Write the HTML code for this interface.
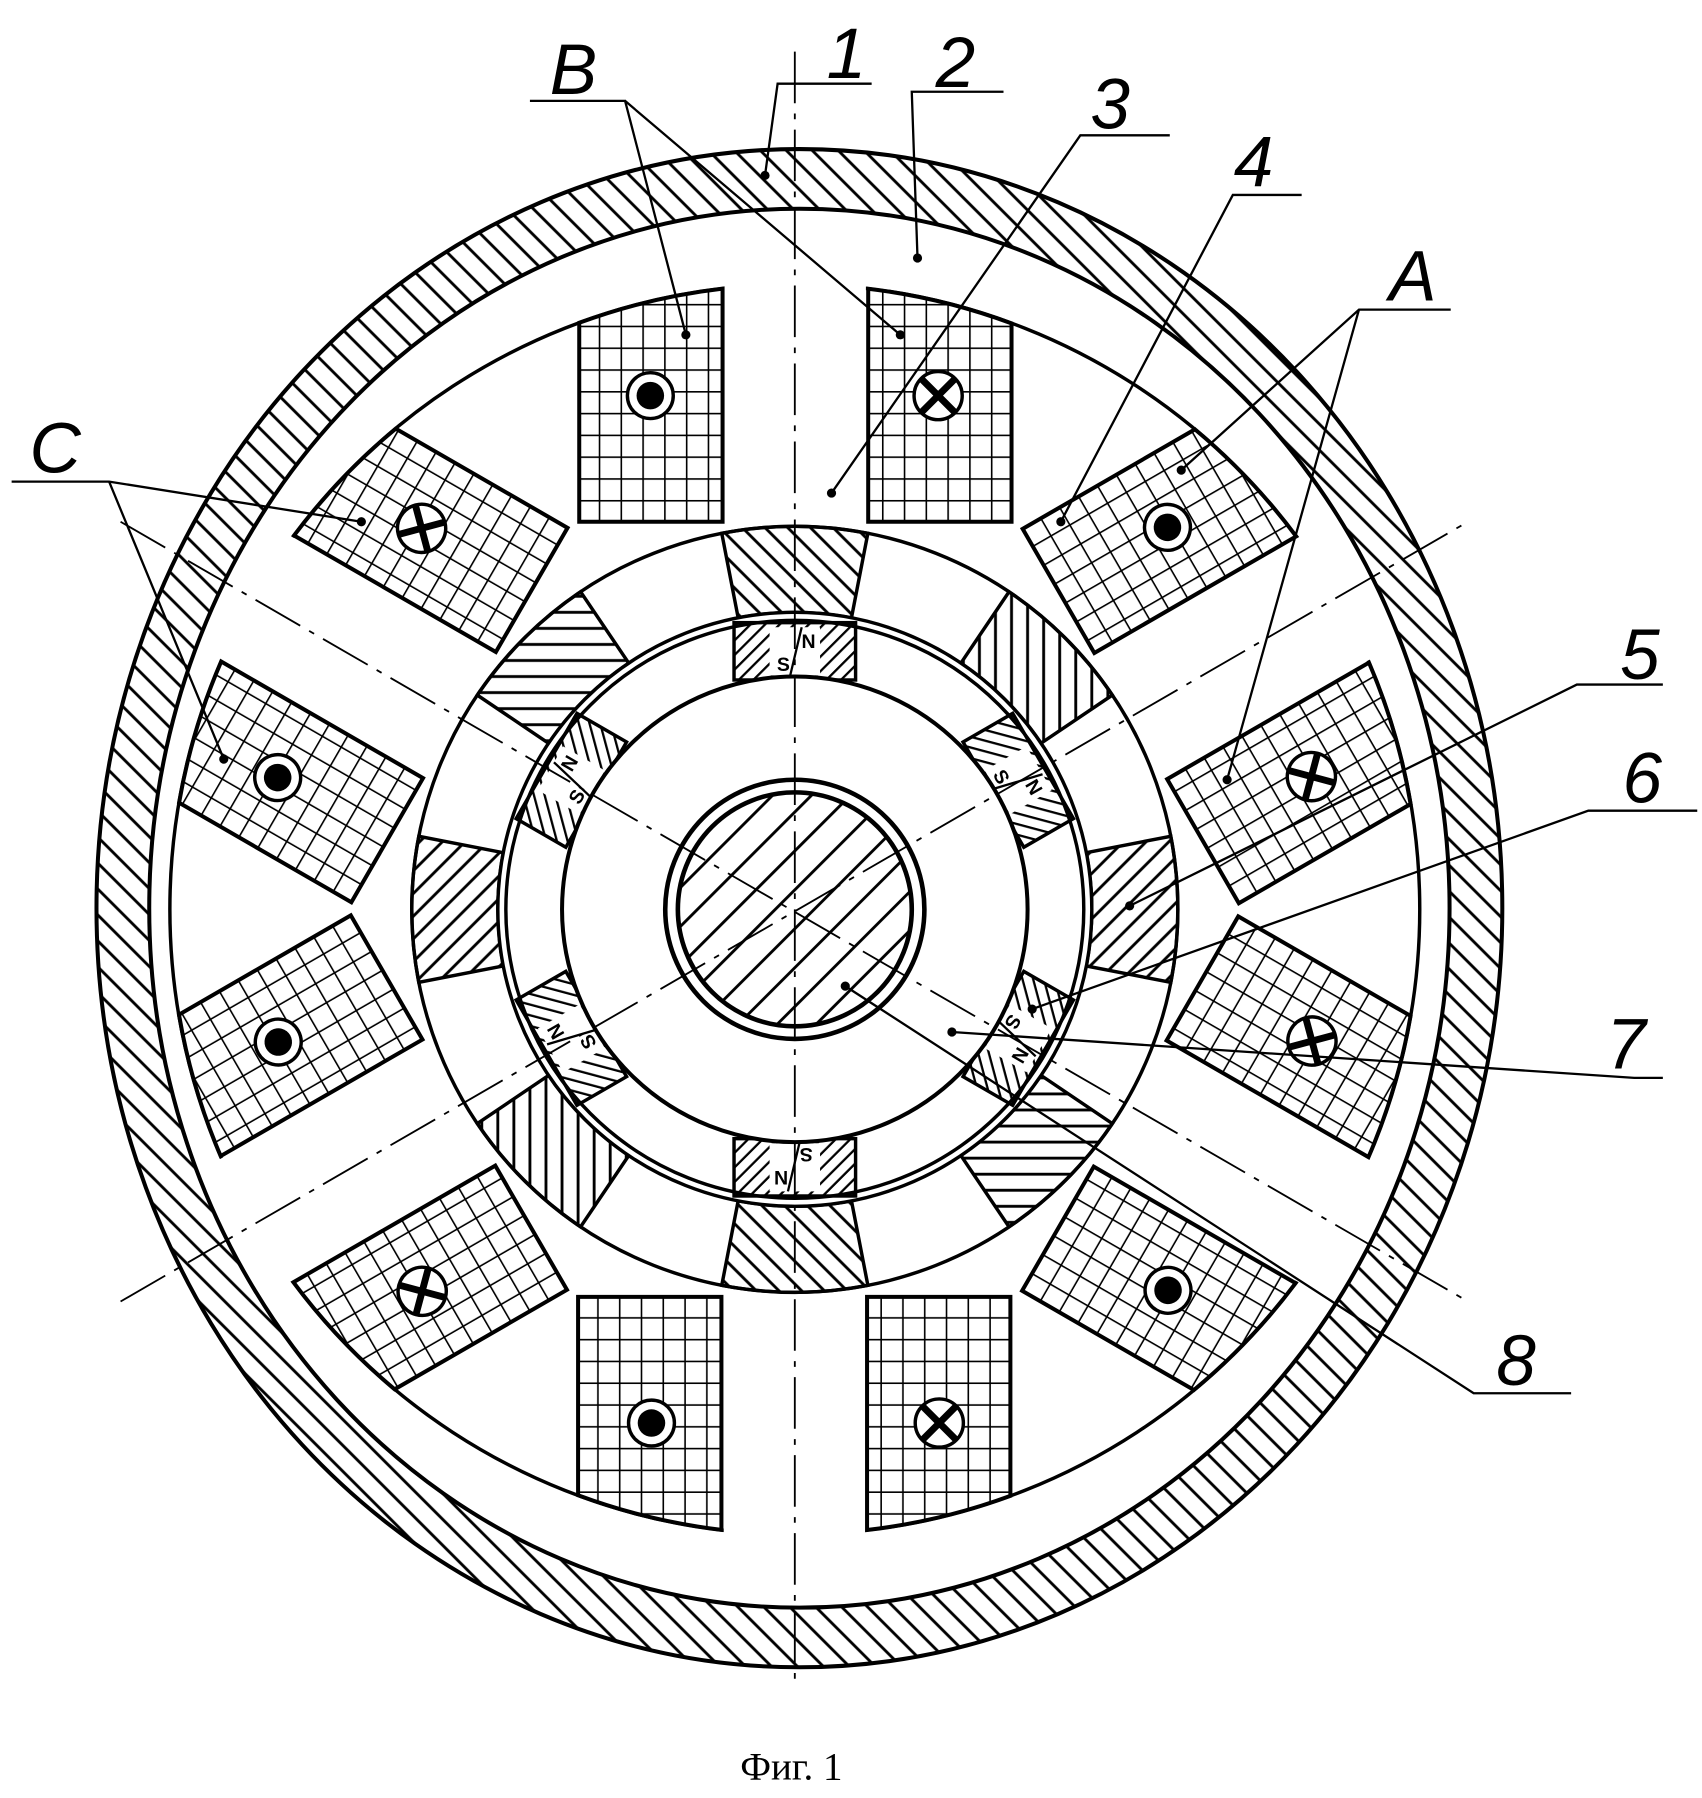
<!DOCTYPE html>
<html><head><meta charset="utf-8"><style>
html,body{margin:0;padding:0;background:#fff;}
svg{display:block;}
</style></head><body>
<svg width="1702" height="1798" viewBox="0 0 1484 1568" xmlns="http://www.w3.org/2000/svg">
<defs>
<pattern id="hh" width="16" height="16" patternUnits="userSpaceOnUse" patternTransform="rotate(-45)">
<line x1="8" y1="0" x2="8" y2="16" stroke="#000" stroke-width="2.5"/></pattern>
<pattern id="hs" width="14" height="14" patternUnits="userSpaceOnUse" patternTransform="rotate(-45)">
<line x1="7" y1="0" x2="7" y2="14" stroke="#000" stroke-width="2.5"/></pattern>
<pattern id="hm" width="9" height="9" patternUnits="userSpaceOnUse" patternTransform="rotate(45)">
<line x1="4" y1="0" x2="4" y2="9" stroke="#000" stroke-width="2"/></pattern>
<pattern id="hsh" width="24" height="24" patternUnits="userSpaceOnUse" patternTransform="rotate(45)">
<line x1="12" y1="0" x2="12" y2="24" stroke="#000" stroke-width="2.5"/></pattern>
<pattern id="grid" width="19" height="19" patternUnits="userSpaceOnUse" x="0" y="-338">
<rect width="19" height="19" fill="#fff"/>
<path d="M0 0H19M0 0V19" stroke="#000" stroke-width="2.8" fill="none"/></pattern>
</defs>
<rect width="1484" height="1568" fill="#fff"/>

<path fill-rule="evenodd" fill="url(#hh)" stroke="#000" stroke-width="3.5"
 d="M84 792 A613 662 0 1 0 1310 792 A613 662 0 1 0 84 792 Z M130 792 A567 610 0 1 0 1264 792 A567 610 0 1 0 130 792 Z"/>

<g transform="translate(693,793)">
<circle r="545" fill="none" stroke="#000" stroke-width="3"/>
<g id="tg">
 <rect x="-62" y="-560" width="124" height="222" fill="#fff"/>
 <path d="M-188,-338 L-63,-338 L-63,-541.3 A545 545 0 0 0 -188,-511.5 Z" fill="url(#grid)" stroke="#000" stroke-width="3.5"/>
 <path d="M64,-338 L189,-338 L189,-511 A545 545 0 0 0 64,-541.2 Z" fill="url(#grid)" stroke="#000" stroke-width="3.5"/>
</g>
<use href="#tg" transform="rotate(60)"/>
<use href="#tg" transform="rotate(120)"/>
<use href="#tg" transform="rotate(180)"/>
<use href="#tg" transform="rotate(240)"/>
<use href="#tg" transform="rotate(300)"/>
<g id="dot"><circle r="20" fill="#fff" stroke="#000" stroke-width="3"/><circle r="12" fill="#000"/></g>
<g id="crs"><circle r="21" fill="#fff" stroke="#000" stroke-width="3"/><path d="M-14,-14L14,14M14,-14L-14,14" stroke="#000" stroke-width="6"/></g>
</g>

<g transform="translate(693,793)">
<circle r="334" fill="#fff" stroke="#000" stroke-width="3"/>
<g id="seg"><path d="M-49.4,-254.2 L-63.7,-327.9 A334 334 0 0 1 63.7,-327.9 L49.4,-254.2 A259 259 0 0 0 -49.4,-254.2 Z" fill="url(#hs)" stroke="#000" stroke-width="3"/></g>
<use href="#seg" transform="rotate(45)"/>
<use href="#seg" transform="rotate(90)"/>
<use href="#seg" transform="rotate(135)"/>
<use href="#seg" transform="rotate(180)"/>
<use href="#seg" transform="rotate(225)"/>
<use href="#seg" transform="rotate(270)"/>
<use href="#seg" transform="rotate(315)"/>
<circle r="259" fill="#fff" stroke="#000" stroke-width="3"/>
<circle r="252" fill="#fff" stroke="#000" stroke-width="3"/>
<g id="mag">
 <rect x="-53" y="-250" width="106" height="50" fill="url(#hm)" stroke="#000" stroke-width="3"/>
 <rect x="-22" y="-246" width="44" height="42" fill="#fff"/>
 <text x="-10" y="-208" font-family="Liberation Sans,sans-serif" font-weight="bold" font-size="17" text-anchor="middle">S</text>
 <text x="12" y="-228" font-family="Liberation Sans,sans-serif" font-weight="bold" font-size="17" text-anchor="middle">N</text>
 <path d="M6,-246 L-4,-204" stroke="#000" stroke-width="2"/>
</g>
<use href="#mag" transform="rotate(60)"/>
<use href="#mag" transform="rotate(120)"/>
<use href="#mag" transform="rotate(180)"/>
<use href="#mag" transform="rotate(240)"/>
<use href="#mag" transform="rotate(300)"/>
<circle r="203" fill="#fff" stroke="#000" stroke-width="3.5"/>
<circle r="113" fill="#fff" stroke="#000" stroke-width="4"/>
<circle r="102" fill="url(#hsh)" stroke="#000" stroke-width="4"/>
</g>

<g transform="translate(693,793)">
 <use href="#dot" transform="translate(-126,-448)"/>
 <use href="#crs" transform="translate(125,-448)"/>
 <use href="#dot" transform="rotate(60) translate(-126,-448)"/>
 <use href="#crs" transform="rotate(60) translate(125,-448)"/>
 <use href="#crs" transform="rotate(120) translate(-126,-448)"/>
 <use href="#dot" transform="rotate(120) translate(125,-448)"/>
 <use href="#crs" transform="rotate(180) translate(-126,-448)"/>
 <use href="#dot" transform="rotate(180) translate(125,-448)"/>
 <use href="#crs" transform="rotate(240) translate(-126,-448)"/>
 <use href="#dot" transform="rotate(240) translate(125,-448)"/>
 <use href="#dot" transform="rotate(300) translate(-126,-448)"/>
 <use href="#crs" transform="rotate(300) translate(125,-448)"/>
</g>

<g stroke="#000" stroke-width="1.6" stroke-dasharray="45 9 5 9" fill="none">
 <line x1="693" y1="45" x2="693" y2="1470"/>
 <line x1="105" y1="455" x2="1280" y2="1135"/>
 <line x1="105" y1="1135" x2="1280" y2="455"/>
</g>

<g stroke="#000" stroke-width="2" fill="none">
 <path d="M462,88H545 L598,292 M545,88 L785,292"/>
 <path d="M760,73H678 L667,153"/>
 <path d="M875,80H795 L800,225"/>
 <path d="M1020,118H942 L725,430"/>
 <path d="M1135,170H1075 L925,455"/>
 <path d="M1265,270H1185 L1030,410 M1185,270 L1070,680"/>
 <path d="M10,420H95 L315,455 M95,420 L195,662"/>
 <path d="M1450,597H1375 L985,790"/>
 <path d="M1480,707H1385 L900,880"/>
 <path d="M1450,940H1425 L830,900"/>
 <path d="M1370,1215H1285 L737,860"/>
</g>
<g fill="#000">
 <circle cx="598" cy="292" r="4"/><circle cx="785" cy="292" r="4"/><circle cx="667" cy="153" r="4"/>
 <circle cx="800" cy="225" r="4"/><circle cx="725" cy="430" r="4"/><circle cx="925" cy="455" r="4"/>
 <circle cx="1030" cy="410" r="4"/><circle cx="1070" cy="680" r="4"/><circle cx="315" cy="455" r="4"/>
 <circle cx="195" cy="662" r="4"/><circle cx="985" cy="790" r="4"/><circle cx="900" cy="880" r="4"/>
 <circle cx="830" cy="900" r="4"/><circle cx="737" cy="860" r="4"/>
</g>
<g font-family="Liberation Sans,sans-serif" font-style="italic" font-size="62" fill="#000" text-anchor="middle">
 <text x="500" y="82">B</text>
 <text x="738" y="68">1</text>
 <text x="833" y="76">2</text>
 <text x="968" y="112">3</text>
 <text x="1093" y="162">4</text>
 <text x="1232" y="262">A</text>
 <text x="48" y="412">C</text>
 <text x="1430" y="592">5</text>
 <text x="1432" y="700">6</text>
 <text x="1418" y="932">7</text>
 <text x="1322" y="1208">8</text>
</g>
<text x="690" y="1552" font-family="Liberation Serif,serif" font-size="34" text-anchor="middle">Фиг. 1</text>
</svg>
</body></html>
